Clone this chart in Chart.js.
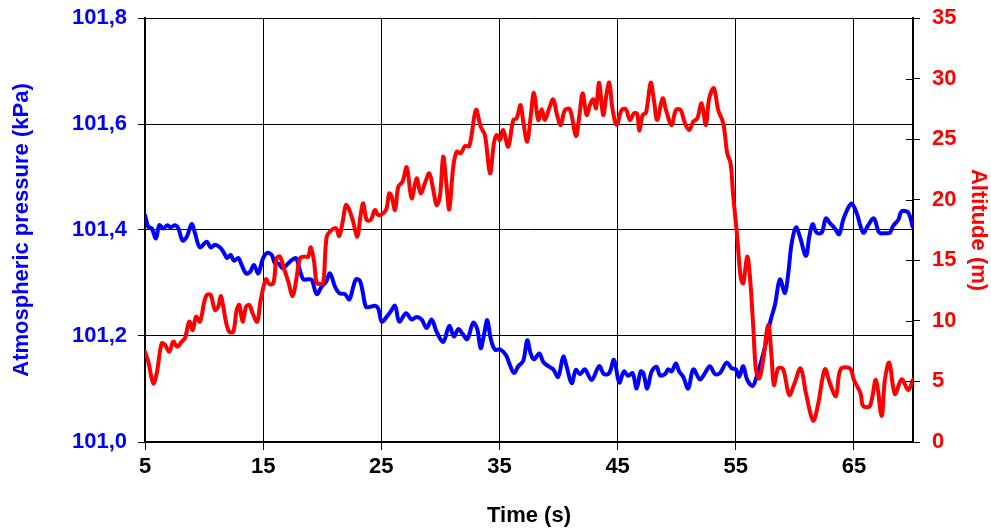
<!DOCTYPE html>
<html><head><meta charset="utf-8">
<script src="https://cdn.jsdelivr.net/npm/chart.js@4/dist/chart.umd.min.js"></script>
<style>html,body{margin:0;padding:0;background:#fff;overflow:hidden}canvas{display:block}</style>
</head><body>
<canvas id="c" width="991" height="531"></canvas>
<script>
const timeTicks = [5, 15, 25, 35, 45, 55, 65];
const pressureTicks = [101.0, 101.2, 101.4, 101.6, 101.8];
const altitudeTicks = [0, 5, 10, 15, 20, 25, 30, 35];

const pressureTime = [5.00,5.28,5.57,5.93,6.21,6.55,6.89,7.17,7.54,7.82,8.19,8.53,8.95,9.23,9.65,10.22,10.56,10.92,11.35,11.63,11.96,12.25,12.53,12.90,13.18,13.55,13.89,14.22,14.59,14.96,15.35,15.72,16.00,16.28,16.65,16.99,17.41,17.78,18.06,18.40,18.82,19.11,19.53,19.95,20.32,20.66,21.08,21.44,21.92,22.29,22.63,22.86,23.19,23.42,23.70,24.04,24.46,24.74,25.03,25.45,25.79,26.16,26.52,27.09,27.57,27.99,28.42,28.84,29.26,29.68,30.24,30.75,31.15,31.51,31.88,32.27,32.78,33.12,33.41,33.69,33.97,34.25,34.62,35.04,35.55,35.89,36.23,36.59,37.01,37.35,37.64,37.92,38.37,38.71,39.21,39.55,39.97,40.40,40.69,41.11,41.47,41.81,42.23,42.80,43.44,43.84,44.29,44.69,45.14,45.53,45.90,46.27,46.61,46.95,47.17,47.51,47.88,48.30,48.58,49.00,49.28,49.57,49.93,50.21,50.55,50.98,51.40,51.97,52.39,52.81,53.24,53.66,54.23,54.65,55.01,55.29,55.63,55.97,56.43,56.76,57.19,57.61,57.95,58.31,58.74,59.16,59.44,59.73,60.10,60.43,60.94,61.22,61.50,61.84,62.27,62.63,62.97,63.39,63.75,64.09,64.43,64.80,65.23,65.79,66.21,66.69,67.14,67.62,68.05,68.32,68.75,69.04,69.59,69.97];
const pressureKPa = [101.428,101.406,101.403,101.384,101.409,101.403,101.409,101.405,101.409,101.403,101.380,101.387,101.411,101.394,101.367,101.378,101.367,101.372,101.367,101.359,101.347,101.353,101.342,101.347,101.334,101.318,101.321,101.334,101.318,101.345,101.357,101.353,101.337,101.337,101.328,101.334,101.343,101.347,101.328,101.307,101.307,101.306,101.279,101.293,101.302,101.318,101.293,101.281,101.279,101.269,101.293,101.307,101.304,101.284,101.255,101.255,101.257,101.252,101.227,101.236,101.246,101.257,101.227,101.243,101.231,101.236,101.231,101.215,101.231,101.208,101.189,101.219,101.199,101.213,101.204,101.194,101.225,101.213,101.177,101.202,101.230,101.196,101.174,101.175,101.164,101.145,101.130,101.143,101.153,101.192,101.167,101.156,101.167,101.151,101.142,101.137,101.123,101.161,101.142,101.111,101.136,101.128,101.137,101.117,101.143,101.128,101.130,101.155,101.112,101.133,101.125,101.130,101.101,101.133,101.130,101.101,101.133,101.142,101.126,101.128,101.137,101.133,101.148,101.133,101.123,101.101,101.137,101.118,101.130,101.143,101.128,101.130,101.150,101.139,101.137,101.123,101.143,101.117,101.106,101.123,101.155,101.192,101.230,101.258,101.307,101.281,101.318,101.375,101.405,101.387,101.351,101.387,101.411,101.395,101.395,101.422,101.413,101.403,101.392,101.419,101.438,101.450,101.432,101.395,101.409,101.422,101.395,101.394,101.395,101.408,101.419,101.435,101.433,101.406];

const altitudeTime = [5.00,5.28,5.70,5.99,6.41,6.69,7.06,7.39,7.73,8.11,8.38,8.75,9.04,9.32,9.65,9.99,10.22,10.56,10.92,11.20,11.41,11.63,11.85,12.13,12.47,12.76,12.98,13.26,13.55,13.83,14.11,14.50,14.79,15.24,15.52,15.86,16.14,16.42,16.76,17.13,17.50,17.84,18.12,18.55,18.82,19.03,19.31,19.53,19.81,20.09,20.38,20.80,21.16,21.44,21.73,22.01,22.29,22.58,22.97,23.25,23.47,23.76,24.10,24.46,24.74,25.17,25.45,25.67,25.88,26.16,26.44,26.80,27.15,27.57,27.99,28.33,28.69,29.06,29.40,29.68,29.96,30.24,30.53,30.75,31.09,31.38,31.72,32.08,32.45,33.01,33.41,33.77,34.20,34.53,34.76,35.04,35.32,35.74,36.17,36.45,36.79,37.01,37.35,37.64,37.92,38.28,38.57,38.85,39.21,39.55,39.84,40.18,40.54,40.96,41.47,41.75,42.04,42.38,42.66,42.94,43.17,43.44,43.78,44.07,44.29,44.58,44.92,45.34,45.70,46.04,46.38,46.66,46.83,47.12,47.40,47.80,48.07,48.35,48.81,49.09,49.57,49.93,50.33,50.70,51.06,51.40,51.74,52.11,52.47,52.75,53.15,53.51,53.94,54.28,54.56,54.79,55.12,55.41,55.63,55.97,56.20,56.48,56.71,56.99,57.32,57.75,58.03,58.23,58.59,59.01,59.52,59.92,60.49,60.94,61.55,61.98,62.54,62.97,63.48,63.87,64.66,65.00,65.56,65.78,66.35,66.86,67.34,67.62,67.99,68.47,69.04,69.59,70.00];
const altitudeM = [7.45,6.63,4.84,5.67,8.15,8.01,7.45,8.28,7.87,8.28,8.56,9.93,9.24,10.34,9.93,11.45,12.13,12.13,10.90,11.17,12.05,11.17,9.93,9.10,9.10,10.90,11.31,9.93,11.17,11.31,10.62,9.93,11.72,13.43,13.04,13.10,15.16,15.30,14.34,13.23,12.05,13.64,15.16,15.30,15.30,16.07,14.88,13.15,13.04,13.15,16.95,17.50,17.64,17.00,18.18,19.56,19.15,18.33,16.95,18.74,19.70,18.33,18.33,19.15,18.74,18.88,19.29,20.53,20.25,19.15,21.07,21.49,22.68,20.12,21.77,20.53,21.35,22.18,20.80,19.56,20.25,23.55,21.07,19.21,22.72,23.96,23.83,24.43,24.43,27.41,26.03,25.34,22.18,24.66,25.34,24.93,25.75,24.38,26.58,26.72,27.82,26.44,24.79,26.85,28.83,26.58,27.46,26.58,27.55,28.29,27.13,26.17,27.41,27.46,25.26,26.85,28.78,26.99,27.82,28.29,27.55,29.66,26.99,28.78,29.66,27.41,26.17,27.41,27.46,26.58,27.13,27.08,25.70,26.99,27.18,29.66,28.23,26.58,28.37,27.41,26.17,27.41,27.41,26.31,25.75,26.44,26.72,27.96,26.17,28.37,29.20,27.41,26.31,23.83,23.01,20.25,16.95,13.64,13.10,15.30,13.64,9.52,5.94,5.26,6.77,9.66,7.04,4.70,6.08,6.00,3.88,4.70,6.08,4.02,1.76,3.19,6.00,4.84,3.80,6.00,6.08,5.12,4.02,2.97,2.97,5.12,2.15,5.12,6.55,3.96,5.18,4.29,5.12];

const FONT = '"Liberation Sans", Arial, sans-serif';
const f22 = {family: FONT, size: 22, weight: 'bold', lineHeight: 1.2};

// target plot-area box
const AREA = {left: 145, right: 913, top: 18, bottom: 442};
let xHeight = 89, yWidth = 145, y2Width = 78;

function noOverflow(s) {
  s.paddingTop = 0; s.paddingBottom = 0; s.paddingLeft = 0; s.paddingRight = 0;
}

const innerTicks = {
  id: 'innerTicks',
  afterDraw(chart) {
    const s = chart.scales.y2, ctx = chart.ctx, r = chart.chartArea.right;
    ctx.save();
    ctx.strokeStyle = '#000'; ctx.lineWidth = 1;
    s.ticks.forEach(t => {
      const y = Math.round(s.getPixelForValue(t.value)) + 0.5;
      ctx.beginPath(); ctx.moveTo(r - 7, y); ctx.lineTo(r, y); ctx.stroke();
    });
    ctx.restore();
  }
};

const chart = new Chart(document.getElementById('c'), {
  type: 'line',
  data: {
    datasets: [
      {
        label: 'Altitude (m)',
        data: altitudeTime.map((t, i) => ({x: t, y: altitudeM[i]})),
        yAxisID: 'y2',
        borderColor: '#FF0000', borderWidth: 4, pointRadius: 0,
        tension: 0.35, fill: false, order: 0,
        borderJoinStyle: 'round', borderCapStyle: 'round'
      },
      {
        label: 'Atmospheric pressure (kPa)',
        data: pressureTime.map((t, i) => ({x: t, y: pressureKPa[i]})),
        yAxisID: 'y',
        borderColor: '#0000FF', borderWidth: 4, pointRadius: 0,
        tension: 0.35, fill: false, order: 1,
        borderJoinStyle: 'round', borderCapStyle: 'round'
      }
    ]
  },
  options: {
    responsive: false, animation: false, devicePixelRatio: 1,
    layout: {padding: {top: 18, left: 0, right: 0, bottom: 0}},
    plugins: {legend: {display: false}, tooltip: {enabled: false}},
    scales: {
      x: {
        type: 'linear', min: 5, max: 70,
        afterBuildTicks: s => { s.ticks = timeTicks.map(v => ({value: v})); },
        afterFit: s => { s.height = xHeight; noOverflow(s); },
        grid: {color: '#000', lineWidth: 1, tickLength: 8, drawTicks: true},
        border: {color: '#000', width: 2},
        ticks: {color: '#000', font: f22, padding: 4, maxRotation: 0, autoSkip: false,
                callback: v => String(v)},
        title: {display: true, text: 'Time (s)', color: '#000', font: f22, padding: {top: 0, bottom: 2}}
      },
      y: {
        type: 'linear', position: 'left', min: 101.0, max: 101.8,
        afterBuildTicks: s => { s.ticks = pressureTicks.map(v => ({value: v})); },
        afterFit: s => { s.width = yWidth; noOverflow(s); },
        grid: {color: '#000', lineWidth: 1, tickLength: 7, drawTicks: true},
        border: {color: '#000', width: 2},
        ticks: {color: '#0000FF', font: f22, padding: 11,
                callback: v => Number(v).toFixed(1).replace('.', ',')},
        title: {display: true, text: 'Atmospheric pressure (kPa)', color: '#0000FF', font: f22, padding: {top: 9, bottom: 0}}
      },
      y2: {
        type: 'linear', position: 'right', min: 0, max: 35,
        afterBuildTicks: s => { s.ticks = altitudeTicks.map(v => ({value: v})); },
        afterFit: s => { s.width = y2Width; noOverflow(s); },
        grid: {color: '#000', lineWidth: 1, tickLength: 7, drawTicks: true, drawOnChartArea: false},
        border: {color: '#000', width: 2},
        ticks: {color: '#FF0000', font: f22, padding: 12, callback: v => String(v)},
        title: {display: true, text: 'Altitude (m)', color: '#FF0000', font: f22, padding: {top: 0, bottom: 0}}
      }
    }
  },
  plugins: [innerTicks]
});

// nudge the layout so the plot area lands on the reference box
for (let k = 0; k < 3; k++) {
  const ca = chart.chartArea;
  const pad = chart.options.layout.padding;
  const dTop = AREA.top - ca.top;
  const dBottom = AREA.bottom - ca.bottom;
  const dLeft = AREA.left - ca.left;
  const dRight = AREA.right - ca.right;
  if (!dTop && !dBottom && !dLeft && !dRight) break;
  pad.top = Math.max(0, pad.top + dTop);
  xHeight -= dBottom;
  yWidth += dLeft;
  y2Width -= dRight;
  chart.update();
}
</script>
</body></html>
